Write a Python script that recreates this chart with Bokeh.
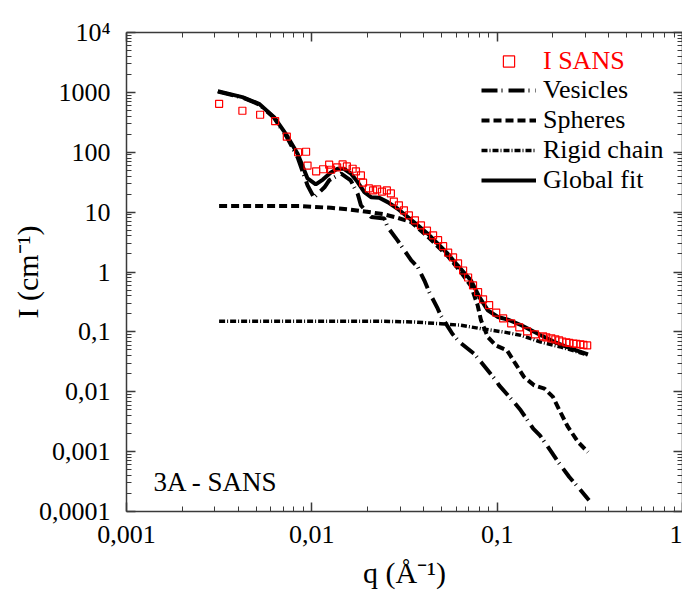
from bokeh.plotting import figure
from bokeh.models import (LogAxis, FixedTicker, CustomJSTickFormatter, Legend,
                          LegendItem, Label)
from bokeh.embed import file_html
from bokeh.resources import INLINE

FONT = "Liberation Serif"

# ---- data ----
q_sans = [0.00316, 0.00422, 0.00526, 0.00634, 0.00733, 0.00843, 0.00931, 0.00948,
          0.01055, 0.0115, 0.0124, 0.0127, 0.0137, 0.01466, 0.01546, 0.0166, 0.0173,
          0.0184, 0.0189, 0.0203, 0.0214, 0.0225, 0.0239, 0.0254, 0.0267, 0.0277,
          0.0295, 0.0314, 0.0334, 0.0360, 0.0388, 0.0418, 0.0451, 0.0480, 0.0511,
          0.0544, 0.0578, 0.0615, 0.0655, 0.0697, 0.0741, 0.0789, 0.0839, 0.0905,
          0.0988, 0.1077, 0.119, 0.1316, 0.145, 0.160, 0.177, 0.184, 0.196, 0.206,
          0.216, 0.2245, 0.236, 0.245, 0.258, 0.2675, 0.281, 0.292, 0.306]
I_sans = [645, 493, 423, 330, 182, 100, 102, 60,
          48, 52, 62, 51, 56, 62.5, 58, 53, 48,
          41, 31, 25, 23, 24, 22, 23, 20.5, 15,
          13, 10.7, 8.8, 7.3, 6.0, 4.9, 4.1, 3.4, 2.7,
          2.1, 1.75, 1.39, 1.06, 0.81, 0.60, 0.46, 0.35, 0.28,
          0.21, 0.168, 0.139, 0.119, 0.102, 0.091, 0.084, 0.081, 0.078, 0.075,
          0.072, 0.069, 0.067, 0.0655, 0.064, 0.063, 0.062, 0.0605, 0.0595]

q_ves = [0.00311, 0.00422, 0.00519, 0.00626, 0.00733, 0.00838, 0.00948, 0.01026,
         0.0117, 0.0124, 0.0144, 0.0162, 0.0177, 0.0184, 0.0209, 0.0246, 0.02566,
         0.029, 0.0344, 0.0373, 0.0405, 0.043, 0.0478, 0.0496, 0.0573, 0.0625,
         0.0752, 0.0818, 0.0984, 0.1025, 0.1233, 0.134, 0.1565, 0.170, 0.1965,
         0.2133, 0.245, 0.273, 0.313]
I_ves = [1030, 820, 630, 375, 180, 82, 28, 17.6,
         26, 34, 44, 34, 20, 13, 8.3, 7.8, 5.6,
         3.37, 1.56, 1.21, 0.72, 0.46, 0.244, 0.188, 0.093, 0.068,
         0.043, 0.0313, 0.0155, 0.0128, 0.0067, 0.0049, 0.00242, 0.00187, 0.00098,
         0.00067, 0.000377, 0.000256, 0.000154]

q_sph = [0.00316, 0.00873, 0.01267, 0.01625, 0.0209, 0.0245, 0.029, 0.0344, 0.0422,
         0.0541, 0.0637, 0.0723, 0.0785, 0.0818, 0.0891, 0.0984, 0.1131, 0.1255,
         0.1397, 0.1585, 0.180, 0.2, 0.2215, 0.241, 0.273, 0.309]
I_sph = [12.6, 12.6, 11.8, 11.0, 9.9, 9.2, 8.05, 6.8, 3.9,
         1.85, 1.0, 0.58, 0.277, 0.156, 0.082, 0.0595, 0.049, 0.0294,
         0.0176, 0.0128, 0.0113, 0.0082, 0.0043, 0.00258, 0.00145, 0.00098]

q_rig = [0.00316, 0.0236, 0.0357, 0.0496, 0.0637, 0.0818, 0.1095, 0.1345, 0.172,
         0.2215, 0.309]
I_rig = [0.151, 0.151, 0.146, 0.137, 0.129, 0.113, 0.099, 0.0875, 0.0676,
         0.0557, 0.041]

q_glob = [0.00311, 0.00422, 0.00519, 0.00626, 0.00733, 0.00838, 0.00948, 0.0105,
          0.01147, 0.01267, 0.01377, 0.0149, 0.01625, 0.01767, 0.0192, 0.02086,
          0.0231, 0.02566, 0.02905, 0.0329, 0.0373, 0.0422, 0.0478, 0.0541, 0.060,
          0.0723, 0.0802, 0.0891, 0.101, 0.1143, 0.135, 0.166, 0.204, 0.251, 0.309]
I_glob = [1047, 832, 645, 386, 191, 94, 36.5, 29,
          35, 46, 53, 53, 44, 31.7, 21.6, 17.8,
          17.4, 14.7, 11.4, 8.3, 6.0, 4.36, 2.96, 2.02, 1.38,
          0.72, 0.38, 0.229, 0.177, 0.160, 0.129, 0.093, 0.0676, 0.0525, 0.0421]

x_major = [0.001, 0.01, 0.1, 1]
y_major = [1e-4, 1e-3, 1e-2, 1e-1, 1, 10, 100, 1000, 1e4]


def minors(lo, hi):
    out = []
    for d in range(lo, hi):
        for k in range(2, 10):
            out.append(k * 10.0 ** d)
    return out


x_minor = minors(-3, 0)
y_minor = minors(-4, 4)

p = figure(width=682, height=597, x_axis_type="log", y_axis_type="log",
           x_range=(0.001, 1), y_range=(1e-4, 1e4),
           output_backend="svg", toolbar_location=None,
           min_border_left=126, min_border_top=32, min_border_right=0,
           min_border_bottom=86)
p.outline_line_color = None
p.xgrid.visible = False
p.ygrid.visible = False

fmt_code = """
if (tick > 5000) { return "10\u2074"; }
if (tick >= 1) { return tick.toFixed(0); }
const d = Math.round(-Math.log10(tick));
return tick.toFixed(d).replace(".", ",");
"""
blank_code = "return '';"

AX = "#3a3a3a"


def style_axis(ax, labels=True):
    ax.major_tick_in = 9
    ax.major_tick_out = 0
    ax.minor_tick_in = 5
    ax.minor_tick_out = 0
    ax.axis_line_color = AX
    ax.axis_line_width = 1.5
    ax.major_tick_line_color = AX
    ax.major_tick_line_width = 1.5
    ax.minor_tick_line_color = AX
    ax.minor_tick_line_width = 1
    ax.major_label_text_font = FONT
    ax.major_label_text_color = "black"
    ax.axis_label_text_font = FONT
    ax.axis_label_text_font_style = "normal"
    ax.axis_label_text_color = "black"
    if not labels:
        ax.major_label_text_font_size = "0px"
        ax.major_label_standoff = 0
        ax.axis_label_standoff = 0
        ax.formatter = CustomJSTickFormatter(code=blank_code)


xb = p.xaxis[0]
xb.ticker = FixedTicker(ticks=x_major, minor_ticks=x_minor)
xb.formatter = CustomJSTickFormatter(code=fmt_code)
style_axis(xb)
xb.major_label_text_font_size = "26px"
xb.major_label_standoff = 14
xb.axis_label = "q (\u00c5\u207b\u00b9)"
xb.axis_label_text_font_size = "30px"
xb.axis_label_text_line_height = 0.9
xb.axis_label_standoff = 10

yl = p.yaxis[0]
yl.ticker = FixedTicker(ticks=y_major, minor_ticks=y_minor)
yl.formatter = CustomJSTickFormatter(code=fmt_code)
style_axis(yl)
yl.major_label_text_font_size = "26px"
yl.major_label_standoff = 16
yl.axis_label = "I (cm\u207b\u00b9)"
yl.axis_label_text_font_size = "30px"
yl.axis_label_standoff = -8

xt = LogAxis(ticker=FixedTicker(ticks=x_major, minor_ticks=x_minor))
style_axis(xt, labels=False)
p.add_layout(xt, "above")
yr = LogAxis(ticker=FixedTicker(ticks=y_major, minor_ticks=y_minor))
style_axis(yr, labels=False)
p.add_layout(yr, "right")

r_ves = p.line(q_ves, I_ves, line_color="black", line_width=4,
               line_dash="16 4 1 6")
r_sph = p.line(q_sph, I_sph, line_color="black", line_width=4,
               line_dash="8 4")
r_rig = p.line(q_rig, I_rig, line_color="black", line_width=3.5,
               line_dash="6 2 1 2")
r_glob = p.line(q_glob, I_glob, line_color="black", line_width=4)
r_sans = p.scatter(q_sans, I_sans, marker="square", size=7,
                   line_color="red", fill_color=None, line_width=1.2)


def make_legend(items, loc, color):
    lg = Legend(items=items, location=loc)
    lg.label_text_font = FONT
    lg.label_text_font_size = "26px"
    lg.label_text_color = color
    lg.label_text_line_height = 1.0
    lg.glyph_width = 55
    lg.glyph_height = 28
    lg.label_height = 28
    lg.label_standoff = 7
    lg.spacing = 0
    lg.padding = 0
    lg.margin = 0
    lg.border_line_color = None
    lg.background_fill_alpha = 0
    return lg


leg1 = make_legend([LegendItem(label="I SANS", renderers=[r_sans])], (355, 435), "red")
leg2 = make_legend([LegendItem(label="Vesicles", renderers=[r_ves]),
                    LegendItem(label="Spheres", renderers=[r_sph]),
                    LegendItem(label="Rigid chain", renderers=[r_rig]),
                    LegendItem(label="Global fit", renderers=[r_glob])],
                   (355, 316), "black")
p.add_layout(leg1)
p.add_layout(leg2)

p.add_layout(Label(x=0.0014, y=3.1e-4, text="3A - SANS", text_font=FONT,
                   text_font_size="27px", text_color="black",
                   text_baseline="alphabetic"))

open("out.html", "w").write(file_html(p, INLINE))
